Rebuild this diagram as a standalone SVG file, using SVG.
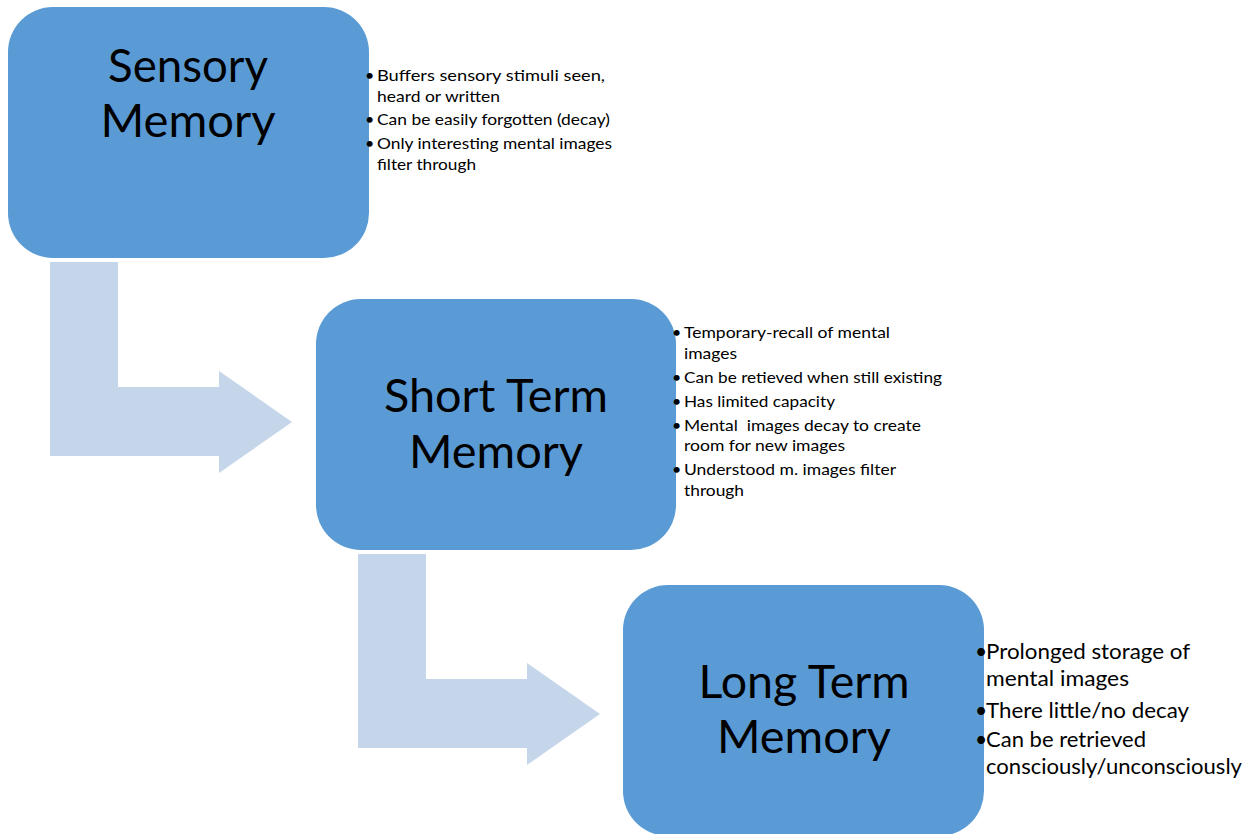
<svg xmlns="http://www.w3.org/2000/svg" width="1256" height="834" viewBox="0 0 1256 834">
<style>
.box{fill:#5B9BD5}
.arr{fill:#C5D5EA}
.title{font-family:Lato,"Open Sans","Liberation Sans",sans-serif;font-size:47px;fill:#000;text-anchor:middle}
.b1{font-family:Lato,"Open Sans","Liberation Sans",sans-serif;font-size:16px;fill:#000}
.b3{font-family:Lato,"Open Sans","Liberation Sans",sans-serif;font-size:21px;fill:#000}
</style>
<rect width="1256" height="834" fill="#fff"/>
<g id="connectors">
<path class="arr" d="M50,262 H118 V387 H219 V371 L292,422 L219,473 V456 H50 Z"/>
<path class="arr" d="M358,554 H426 V679 H527 V663 L600,714 L527,765 V748 H358 Z"/>
</g>
<g id="sensory">
<rect class="box" x="8" y="7" width="361" height="251" rx="45"/>
<text class="title" x="188" y="82" textLength="160" lengthAdjust="spacingAndGlyphs">Sensory</text>
<text class="title" x="188" y="137" textLength="175" lengthAdjust="spacingAndGlyphs">Memory</text>
<g class="b1">
<text x="365" y="81">•</text><text x="377" y="81" textLength="228" lengthAdjust="spacingAndGlyphs">Buffers sensory stimuli seen,</text>
<text x="377" y="102" textLength="123" lengthAdjust="spacingAndGlyphs">heard or written</text>
<text x="365" y="125">•</text><text x="377" y="125" textLength="233" lengthAdjust="spacingAndGlyphs">Can be easily forgotten (decay)</text>
<text x="365" y="149">•</text><text x="377" y="149" textLength="235" lengthAdjust="spacingAndGlyphs">Only interesting mental images</text>
<text x="377" y="170" textLength="99" lengthAdjust="spacingAndGlyphs">filter through</text>
</g>
</g>
<g id="shortterm">
<rect class="box" x="316" y="299" width="360" height="251" rx="45"/>
<text class="title" x="496" y="412" textLength="224" lengthAdjust="spacingAndGlyphs">Short Term</text>
<text class="title" x="496" y="468" textLength="174" lengthAdjust="spacingAndGlyphs">Memory</text>
<g class="b1">
<text x="672" y="338">•</text><text x="684" y="338" textLength="206" lengthAdjust="spacingAndGlyphs">Temporary-recall of mental</text>
<text x="684" y="359" textLength="53" lengthAdjust="spacingAndGlyphs">images</text>
<text x="672" y="383">•</text><text x="684" y="383" textLength="258" lengthAdjust="spacingAndGlyphs">Can be retieved when still existing</text>
<text x="672" y="407">•</text><text x="684" y="407" textLength="151" lengthAdjust="spacingAndGlyphs">Has limited capacity</text>
<text x="672" y="431">•</text><text x="684" y="431" textLength="237" lengthAdjust="spacingAndGlyphs" xml:space="preserve">Mental  images decay to create</text>
<text x="684" y="451" textLength="161" lengthAdjust="spacingAndGlyphs">room for new images</text>
<text x="672" y="475">•</text><text x="684" y="475" textLength="212" lengthAdjust="spacingAndGlyphs">Understood m. images filter</text>
<text x="684" y="496" textLength="60" lengthAdjust="spacingAndGlyphs">through</text>
</g>
</g>
<g id="longterm">
<rect class="box" x="623" y="585" width="361" height="251" rx="45"/>
<text class="title" x="804" y="698" textLength="211" lengthAdjust="spacingAndGlyphs">Long Term</text>
<text class="title" x="804" y="753" textLength="174" lengthAdjust="spacingAndGlyphs">Memory</text>
<g class="b3">
<text x="975" y="659">•</text><text x="986" y="659" textLength="204" lengthAdjust="spacingAndGlyphs">Prolonged storage of</text>
<text x="986" y="686" textLength="143" lengthAdjust="spacingAndGlyphs">mental images</text>
<text x="975" y="718">•</text><text x="986" y="718" textLength="203" lengthAdjust="spacingAndGlyphs">There little/no decay</text>
<text x="975" y="747">•</text><text x="986" y="747" textLength="160" lengthAdjust="spacingAndGlyphs">Can be retrieved</text>
<text x="986" y="774" textLength="256" lengthAdjust="spacingAndGlyphs">consciously/unconsciously</text>
</g>
</g>
</svg>
